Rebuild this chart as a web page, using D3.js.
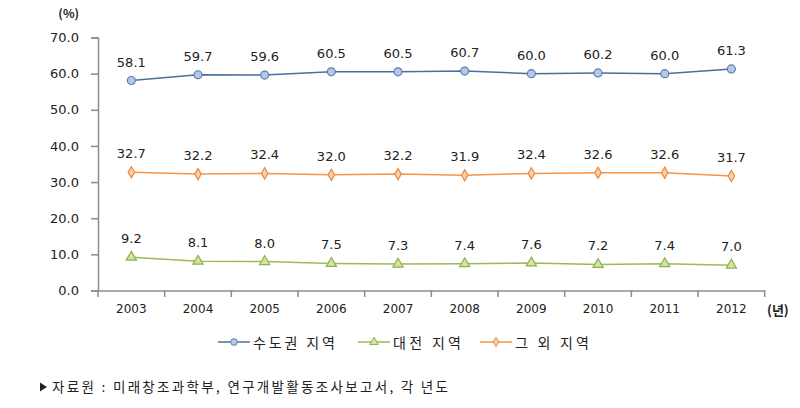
<!DOCTYPE html>
<html><head><meta charset="utf-8">
<script src="https://cdn.jsdelivr.net/npm/d3@7"></script>
<style>body{margin:0;background:#fff;} svg{display:block;}</style>
</head><body>
<svg id="c" width="800" height="408"></svg>
<script>
const years = ["2003","2004","2005","2006","2007","2008","2009","2010","2011","2012"];
const capital = [58.1,59.7,59.6,60.5,60.5,60.7,60.0,60.2,60.0,61.3];
const daejeon = [9.2,8.1,8.0,7.5,7.3,7.4,7.6,7.2,7.4,7.0];
const others = [32.7,32.2,32.4,32.0,32.2,31.9,32.4,32.6,32.6,31.7];
const yTicks = [0,10,20,30,40,50,60,70];
const seriesNames = ["수도권 지역","대전 지역","그 외 지역"];

const svg = d3.select("#c");
const numFont = "'DejaVu Sans', Verdana, sans-serif";
const krFont = "'Noto Sans CJK KR', sans-serif";
const axisColor = "#8c8c8c";

const x = d3.scaleBand().domain(years).range([98, 764.7]);
const y = d3.scaleLinear().domain([0,70]).range([290.5, 37.5]);

// y axis
const yAxis = svg.append("g").attr("transform","translate(98,0)")
  .call(d3.axisLeft(y).tickValues(yTicks).tickFormat(d3.format(".1f")).tickSize(7).tickPadding(12));
yAxis.select(".domain").attr("stroke", axisColor).attr("stroke-width",1.5);
yAxis.selectAll(".tick line").attr("stroke", axisColor).attr("stroke-width",1.5);
yAxis.selectAll(".tick text").attr("font-family", numFont).attr("font-size", 13).attr("fill","#222");

// x axis
const xAxis = svg.append("g").attr("transform","translate(0,290.5)")
  .call(d3.axisBottom(x).tickSize(0).tickPadding(14));
xAxis.select(".domain").attr("stroke", axisColor).attr("stroke-width",1.5);
xAxis.selectAll(".tick text").attr("font-family", numFont).attr("font-size", 12).attr("fill","#222");
// tick marks at band boundaries
const bounds = years.map(d => x(d)).concat([x.range()[1]]);
svg.append("g").selectAll("line").data(bounds).join("line")
  .attr("x1", d=>d).attr("x2", d=>d).attr("y1", 290.5).attr("y2", 297)
  .attr("stroke", axisColor).attr("stroke-width",1.5);

svg.append("text").attr("x",79).attr("y",18).attr("text-anchor","end")
  .attr("font-family", krFont).attr("font-weight","bold").attr("font-size",12).attr("fill","#222").text("(%)");
svg.append("text").attr("x",767).attr("y",315)
  .attr("font-family", krFont).attr("font-weight","bold").attr("font-size",13).attr("fill","#222").text("(년)");

const cx = d => x(d) + x.bandwidth()/2;

const series = [
  {name: seriesNames[0], data: capital, line:"#4a6f9c", fill:"#b4c7e7", stroke:"#5b7fb0", shape: d3.symbolCircle, size: 50},
  {name: seriesNames[1], data: daejeon, line:"#9bbb59", fill:"#d3e4a8", stroke:"#8fb04a", shape: d3.symbolTriangle, size: 45},
  {name: seriesNames[2], data: others, line:"#f79646", fill:"#fbcfa8", stroke:"#e8893e", shape: d3.symbolDiamond, size: 36},
];

const line = d3.line().x((d,i)=>cx(years[i])).y(d=>y(d));
series.forEach(s => {
  const g = svg.append("g");
  g.append("path").datum(s.data).attr("d", line).attr("fill","none").attr("stroke", s.line).attr("stroke-width",1.5);
  g.selectAll("path.m").data(s.data).join("path").attr("class","m")
    .attr("transform",(d,i)=>`translate(${cx(years[i])},${y(d)})`)
    .attr("d", d3.symbol().type(s.shape).size(s.size))
    .attr("fill", s.fill).attr("stroke", s.stroke).attr("stroke-width",1.2);
  g.selectAll("text").data(s.data).join("text")
    .attr("x",(d,i)=>cx(years[i])).attr("y", d=>y(d)-14)
    .attr("text-anchor","middle").attr("font-family", numFont).attr("font-size",13).attr("fill","#222")
    .text(d=>d.toFixed(1));
});

// legend
const legX = [218, 358, 480];
const legW = [82, 68, 74];
series.forEach((s,i) => {
  const g = svg.append("g").attr("transform",`translate(${legX[i]},342)`);
  g.append("line").attr("x1",0).attr("x2",32).attr("y1",0).attr("y2",0).attr("stroke", s.line).attr("stroke-width",1.5);
  g.append("path").attr("transform","translate(16,0)").attr("d", d3.symbol().type(s.shape).size(s.size*0.7))
    .attr("fill", s.fill).attr("stroke", s.stroke).attr("stroke-width",1);
  g.append("text").attr("x",35).attr("y",5.5).attr("font-family", krFont).attr("font-size",14).attr("fill","#222")
    .attr("textLength", legW[i]).attr("lengthAdjust","spacing").text(s.name);
});

// source
svg.append("path").attr("transform","translate(43,387)")
  .attr("d","M-3,-4.5L4,0L-3,4.5Z").attr("fill","#222");
svg.append("text").attr("x",52).attr("y",392).attr("font-family", krFont).attr("font-size",13.5).attr("fill","#222")
  .attr("textLength", 396).attr("lengthAdjust","spacing")
  .text("자료원 : 미래창조과학부, 연구개발활동조사보고서, 각 년도");
</script>
</body></html>
